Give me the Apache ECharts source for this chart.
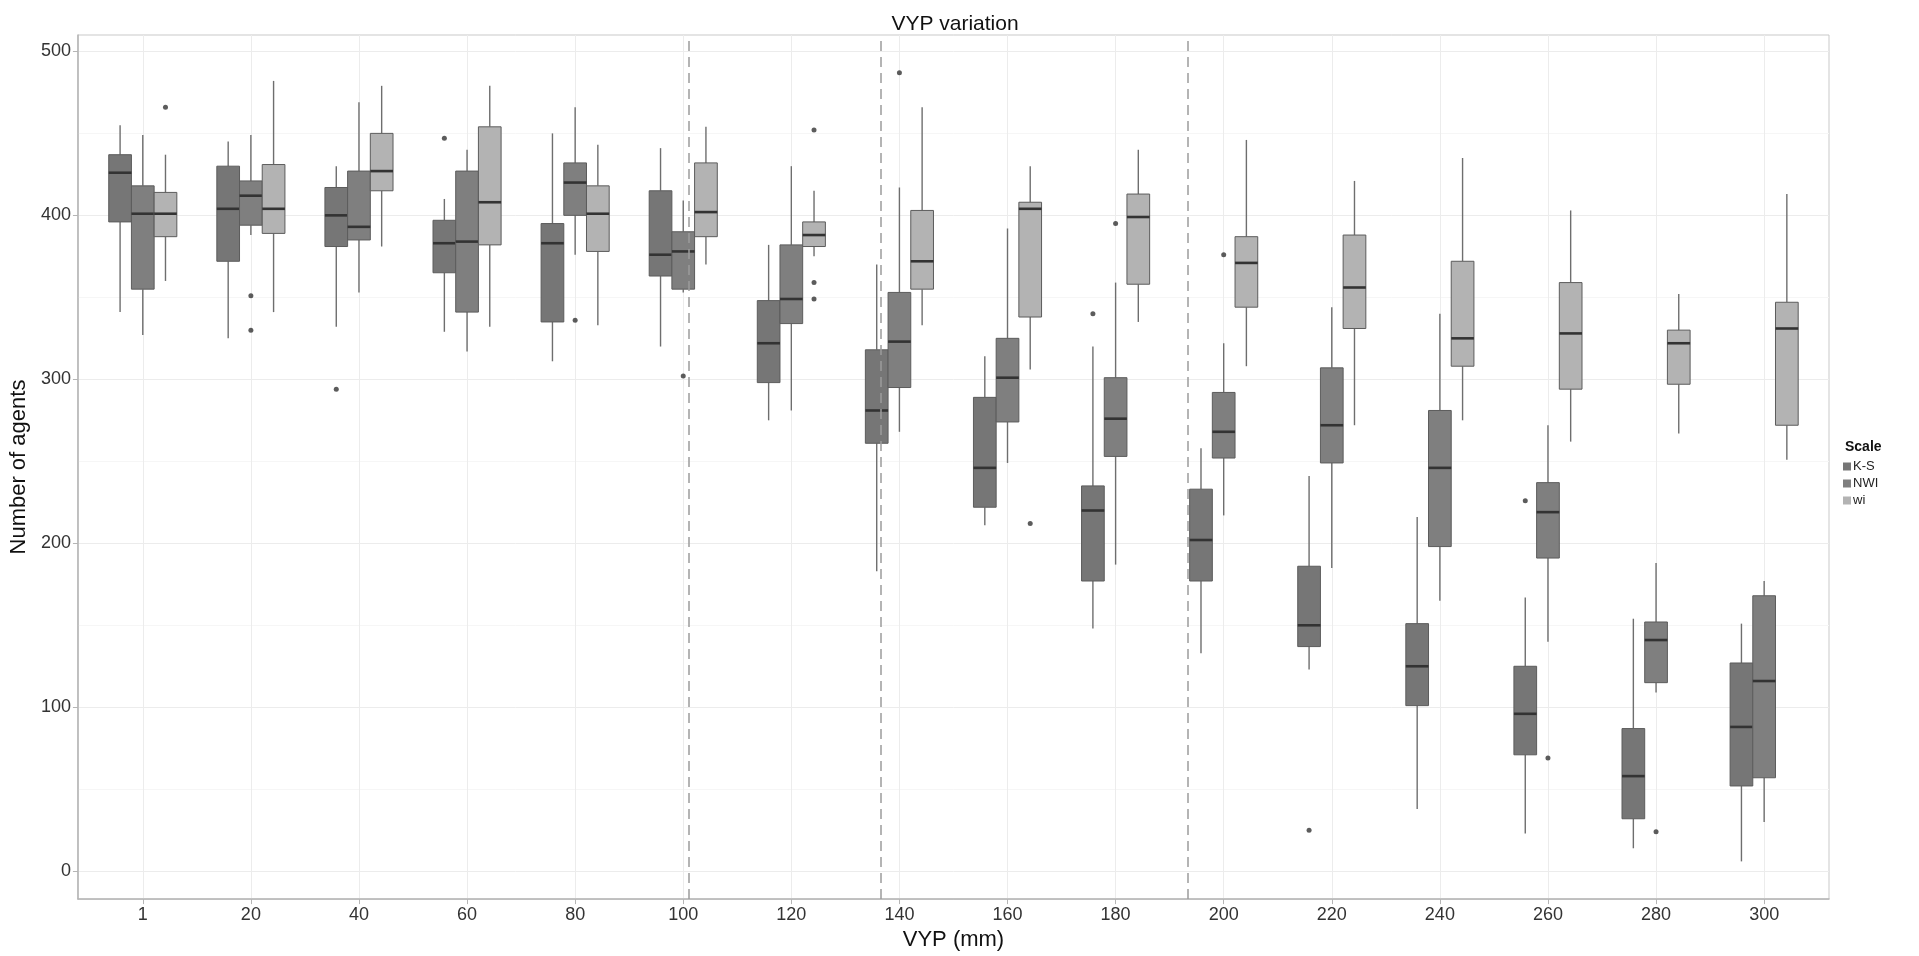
<!DOCTYPE html>
<html>
<head>
<meta charset="utf-8">
<title>VYP variation</title>
<script src="https://cdn.jsdelivr.net/npm/echarts@6/dist/echarts.min.js"></script>
<style>
  html, body { margin: 0; padding: 0; background: #fff; }
  #chart { width: 1919px; height: 956px; }
</style>
</head>
<body>
<div id="chart"></div>
<script>
// VYP (mm) categories on the x axis
const vypLabels = ['1', '20', '40', '60', '80', '100', '120', '140', '160', '180', '200', '220', '240', '260', '280', '300'];

// box stats per category: [lower whisker, Q1, median, Q3, upper whisker]
const ksStats = [
  [341, 396, 426, 437, 455], [325, 372, 404, 430, 445], [332, 381, 400, 417, 430], [329, 365, 383, 397, 410],
  [311, 335, 383, 395, 450], [320, 363, 376, 415, 441], [275, 298, 322, 348, 382], [183, 261, 281, 318, 370],
  [211, 222, 246, 289, 314], [148, 177, 220, 235, 320], [133, 177, 202, 233, 258], [123, 137, 150, 186, 241],
  [38, 101, 125, 151, 216], [23, 71, 96, 125, 167], [14, 32, 58, 87, 154], [6, 52, 88, 127, 151]
];
const nwiStats = [
  [327, 355, 401, 418, 449], [388, 394, 412, 421, 449], [353, 385, 393, 427, 469], [317, 341, 384, 427, 440],
  [376, 400, 420, 432, 466], [353, 355, 378, 390, 409], [281, 334, 349, 382, 430], [268, 295, 323, 353, 417],
  [249, 274, 301, 325, 392], [187, 253, 276, 301, 359], [217, 252, 268, 292, 322], [185, 249, 272, 307, 344],
  [165, 198, 246, 281, 340], [140, 191, 219, 237, 272], [109, 115, 141, 152, 188], [30, 57, 116, 168, 177]
];
const wiStats = [
  [360, 387, 401, 414, 437], [341, 389, 404, 431, 482], [381, 415, 427, 450, 479], [332, 382, 408, 454, 479],
  [333, 378, 401, 418, 443], [370, 387, 402, 432, 454], [375, 381, 388, 396, 415], [333, 355, 372, 403, 466],
  [306, 338, 404, 408, 430], [335, 358, 399, 413, 440], [308, 344, 371, 387, 446], [272, 331, 356, 388, 421],
  [275, 308, 325, 372, 435], [262, 294, 328, 359, 403], [267, 297, 322, 330, 352], [251, 272, 331, 347, 413]
];

// outliers: [category index, value]
const ksOutliers = [[2, 294], [3, 447], [9, 340], [11, 25], [13, 226]];
const nwiOutliers = [[1, 351], [1, 330], [4, 336], [5, 302], [7, 487], [9, 395], [10, 376], [13, 69], [14, 24]];
const wiOutliers = [[0, 466], [6, 452], [6, 359], [6, 349], [8, 212]];

// dashed separators, in category index units
const cutPositions = [5.05, 6.83, 9.67];

const yTicks = [0, 100, 200, 300, 400, 500];
const yMinorTicks = [50, 150, 250, 350, 450];
const xTicks = vypLabels.map((d, i) => i);

// dodge layout (in category units)
const DODGE = 0.21;
const BOX_W = 0.21;
const FONT = 'Liberation Sans, Arial, sans-serif';

const groups = [
  { name: 'K-S', stats: ksStats, outliers: ksOutliers, fill: '#767676', shift: -DODGE },
  { name: 'NWI', stats: nwiStats, outliers: nwiOutliers, fill: '#7f7f7f', shift: 0 },
  { name: 'wi', stats: wiStats, outliers: wiOutliers, fill: '#b3b3b3', shift: DODGE }
];

// 画箱线图：须线没有端帽，中位线加粗
function renderBox(params, api) {
  const x = api.value(0);
  const lo = api.coord([x, api.value(1)]);
  const q1 = api.coord([x, api.value(2)]);
  const md = api.coord([x, api.value(3)]);
  const q3 = api.coord([x, api.value(4)]);
  const hi = api.coord([x, api.value(5)]);
  const w = api.size([BOX_W, 0])[0];
  const whisker = { stroke: '#6e6e6e', lineWidth: 1.4 };
  return {
    type: 'group',
    children: [
      { type: 'line', shape: { x1: hi[0], y1: hi[1], x2: q3[0], y2: q3[1] }, style: whisker },
      { type: 'line', shape: { x1: q1[0], y1: q1[1], x2: lo[0], y2: lo[1] }, style: whisker },
      {
        type: 'rect',
        shape: { x: q3[0] - w / 2, y: q3[1], width: w, height: q1[1] - q3[1] },
        style: { fill: api.visual('color'), stroke: '#5c5c5c', lineWidth: 1 }
      },
      {
        type: 'line',
        shape: { x1: md[0] - w / 2, y1: md[1], x2: md[0] + w / 2, y2: md[1] },
        style: { stroke: '#333', lineWidth: 2.6 }
      }
    ]
  };
}

const series = [];
groups.forEach(g => {
  series.push({
    name: g.name,
    type: 'custom',
    renderItem: renderBox,
    itemStyle: { color: g.fill },
    encode: { x: 0, y: [1, 2, 3, 4, 5] },
    data: g.stats.map((s, i) => [i + g.shift].concat(s)),
    z: 3
  });
});
groups.forEach(g => {
  series.push({
    name: g.name + ' outliers',
    type: 'scatter',
    symbolSize: 5,
    itemStyle: { color: '#333' },
    data: g.outliers.map(o => [o[0] + g.shift, o[1]]),
    z: 4
  });
});
// 虚线分隔
series[3].markLine = {
  silent: true,
  symbol: 'none',
  label: { show: false },
  lineStyle: { type: [10, 6], color: '#9c9c9c', width: 1.5 },
  data: cutPositions.map(p => ({ xAxis: p }))
};

const chart = echarts.init(document.getElementById('chart'));

const option = {
  animation: false,
  backgroundColor: '#fff',
  textStyle: { fontFamily: FONT },
  title: [
    {
      text: 'VYP variation',
      left: 950,
      textAlign: 'center',
      top: 9,
      textStyle: { fontSize: 21, fontWeight: 'normal', color: '#111', fontFamily: FONT }
    },
    {
      text: 'Scale',
      left: 1840,
      top: 435,
      textStyle: { fontSize: 14, fontWeight: 'bold', color: '#111', fontFamily: FONT }
    }
  ],
  legend: {
    data: ['K-S', 'NWI', 'wi'],
    orient: 'vertical',
    left: 1838,
    top: 455,
    icon: 'rect',
    itemWidth: 8,
    itemHeight: 8,
    itemGap: 4,
    textStyle: { fontSize: 13, color: '#222', fontFamily: FONT, padding: [0, 0, 0, -3] }
  },
  grid: {
    left: 71,
    right: 90,
    top: 35,
    bottom: 53,
    show: true,
    borderColor: '#c9c9c9',
    borderWidth: 1,
    backgroundColor: '#fff'
  },
  xAxis: {
    type: 'value',
    min: -0.6,
    max: 15.6,
    name: 'VYP (mm)',
    nameLocation: 'middle',
    nameGap: 19,
    nameTextStyle: { fontSize: 22, color: '#111', fontFamily: FONT },
    axisLine: { show: true, onZero: false, lineStyle: { color: '#b5b5b5', width: 1.5 } },
    axisTick: { show: true, length: 5, customValues: xTicks, lineStyle: { color: '#b5b5b5' } },
    axisLabel: {
      customValues: xTicks,
      formatter: v => vypLabels[Math.round(v)],
      fontSize: 18,
      color: '#333',
      margin: 7
    },
    splitLine: { show: true, lineStyle: { color: '#ececec' } }
  },
  yAxis: [
    {
      type: 'value',
      min: -17,
      max: 510,
      name: 'Number of agents',
      nameLocation: 'middle',
      nameGap: 33,
      nameTextStyle: { fontSize: 22, color: '#111', fontFamily: FONT },
      axisLine: { show: true, onZero: false, lineStyle: { color: '#b5b5b5', width: 1.5 } },
      axisTick: { show: true, length: 5, customValues: yTicks, lineStyle: { color: '#b5b5b5' } },
      axisLabel: { customValues: yTicks, fontSize: 18, color: '#333', margin: 7 },
      splitLine: { show: true, lineStyle: { color: '#ececec' } }
    },
    {
      type: 'value',
      min: -17,
      max: 510,
      position: 'left',
      axisLine: { show: false },
      axisTick: { show: false, customValues: yMinorTicks },
      axisLabel: { show: false, customValues: yMinorTicks },
      splitLine: { show: true, lineStyle: { color: '#f6f6f6' } }
    }
  ],
  series: series
};

chart.setOption(option);
</script>
</body>
</html>
